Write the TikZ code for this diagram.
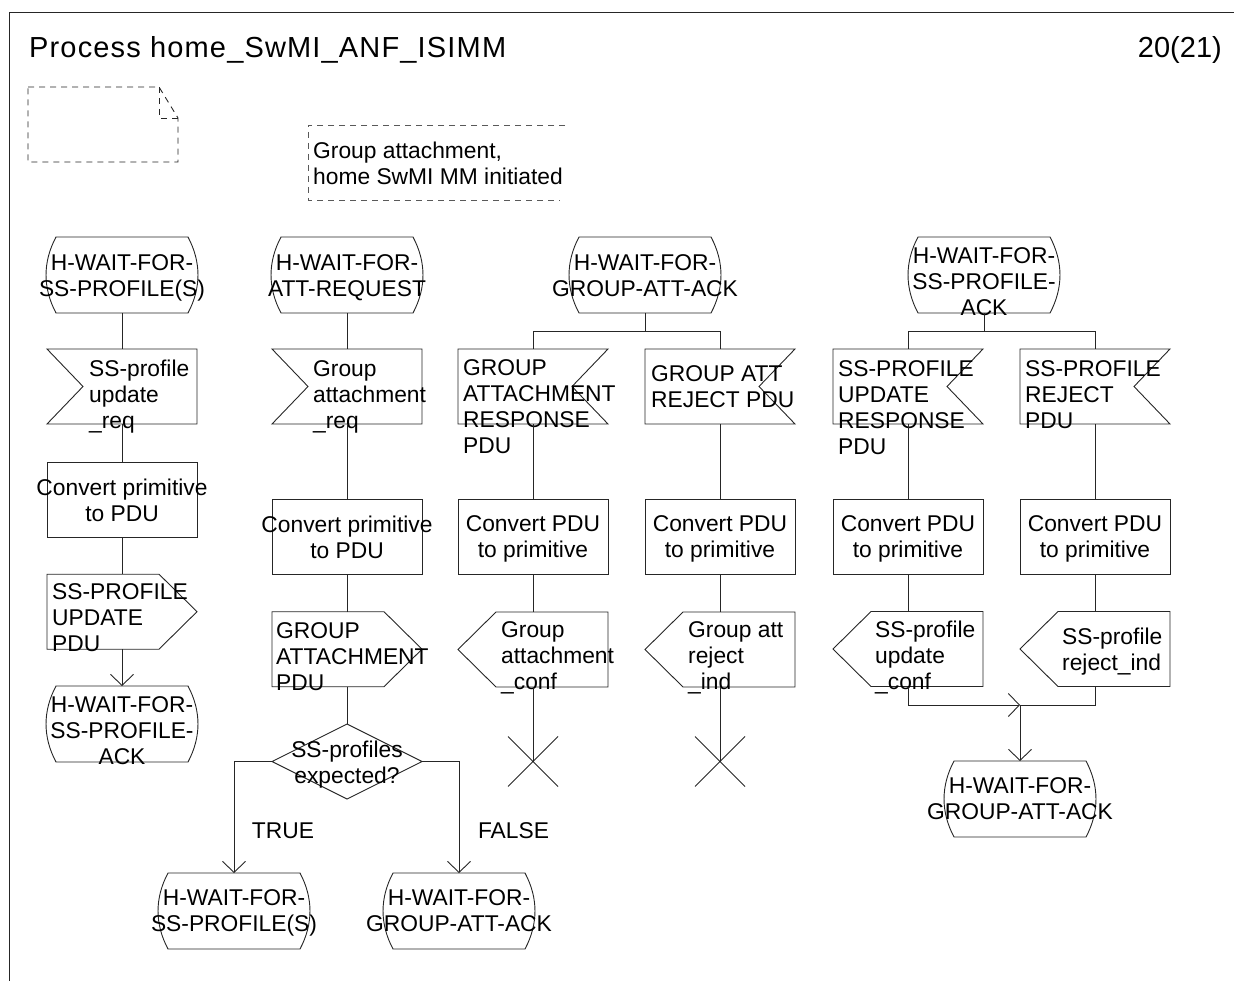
\documentclass[tikz,border=0pt]{standalone}
\usepackage{fontspec}
\setmainfont{Liberation Sans}
\usetikzlibrary{arrows.meta,shapes.geometric}
\newcommand\bodyfnt{\fontsize{22.8}{26}\selectfont}
\newcommand\titlefnt{\fontsize{29}{33}\selectfont\addfontfeature{LetterSpace=4}}
\tikzset{
  ln/.style={line width=0.9pt, draw=black!85},
  arr/.style={ln, -{Straight Barb[length=11pt,width=23pt,line width=0.9pt]}},
  dsh/.style={line width=0.9pt, draw=black!65, dash pattern=on 6pt off 5pt},
  dshdark/.style={line width=0.9pt, draw=black!85, dash pattern=on 6pt off 5pt},
  sym/.style={minimum width=150pt, minimum height=75pt, inner sep=0pt, outer sep=0pt},
  txt/.style={font=\bodyfnt, inner sep=0pt, align=left, anchor=north west},
  ctxt/.style={font=\bodyfnt, inner sep=0pt, align=center, anchor=north},
  sdlstate/.style={sym, minimum width=152pt, minimum height=76pt,
    append after command={\pgfextra{\draw[ln]
      ([xshift=10pt]\tikzlastnode.north west)
      .. controls ([xshift=-3.3pt,yshift=-25pt]\tikzlastnode.north west) and ([xshift=-3.3pt,yshift=25pt]\tikzlastnode.south west) ..
      ([xshift=10pt]\tikzlastnode.south west) -- ([xshift=-10pt]\tikzlastnode.south east)
      .. controls ([xshift=3.3pt,yshift=25pt]\tikzlastnode.south east) and ([xshift=3.3pt,yshift=-25pt]\tikzlastnode.north east) ..
      ([xshift=-10pt]\tikzlastnode.north east) -- cycle;}}},
  sdltask/.style={sym, ln, draw},
  sdlinput/.style={sym, append after command={\pgfextra{\draw[ln]
      (\tikzlastnode.north west) -- (\tikzlastnode.north east) -- (\tikzlastnode.south east)
      -- (\tikzlastnode.south west) -- ([xshift=36pt]\tikzlastnode.west) -- cycle;}}},
  sdlinputr/.style={sym, append after command={\pgfextra{\draw[ln]
      (\tikzlastnode.north west) -- (\tikzlastnode.north east) -- ([xshift=-36pt]\tikzlastnode.east)
      -- (\tikzlastnode.south east) -- (\tikzlastnode.south west) -- cycle;}}},
  sdloutput/.style={sym, append after command={\pgfextra{\draw[ln]
      (\tikzlastnode.north west) -- ([xshift=-38pt]\tikzlastnode.north east) -- (\tikzlastnode.east)
      -- ([xshift=-38pt]\tikzlastnode.south east) -- (\tikzlastnode.south west) -- cycle;}}},
  sdloutputl/.style={sym, append after command={\pgfextra{\draw[ln]
      ([xshift=38pt]\tikzlastnode.north west) -- (\tikzlastnode.north east) -- (\tikzlastnode.south east)
      -- ([xshift=38pt]\tikzlastnode.south west) -- (\tikzlastnode.west) -- cycle;}}},
  sdldecision/.style={shape=diamond, ln, draw, minimum width=150pt, minimum height=75pt, inner sep=0pt, outer sep=0pt},
  sdlstop/.style={minimum size=50pt, inner sep=0pt, outer sep=0pt,
    append after command={\pgfextra{\draw[ln]
      (\tikzlastnode.north west) -- (\tikzlastnode.south east)
      (\tikzlastnode.north east) -- (\tikzlastnode.south west);}}},
}
\begin{document}
\begin{tikzpicture}[x=1pt,y=-1pt]
\useasboundingbox (0,0) rectangle (1234,981);
% frame
\draw[ln] (1234,12) -- (9,12) -- (9,981);
\node[font=\titlefnt, anchor=base west, inner sep=0pt] (title) at (29,58) {Process home\_SwMI\_ANF\_ISIMM};
\node[font=\fontsize{29}{33}\selectfont, anchor=base east, inner sep=0pt] (page) at (1222,58) {20(21)};
% text symbol (dog-ear)
\draw[dshdark] (28,87) -- (159,87) -- (178,118) -- (178,162) -- (28,162) -- cycle;
\draw[dshdark] (159,87) -- (159,118) -- (178,118);
% comment
\node[txt] (comment) at (313,141.3) {Group attachment,\\home SwMI MM initiated};
\draw[dsh] (565,125) -- (308,125) -- (308,200) -- (560,200);

% ---------- column 1
\node[sdlstate] (s1a) at (122,275) {};
\node[sdlinput] (i1) at (122,386.5) {};
\node[sdltask] (t1) at (122,499.5) {};
\node[sdloutput] (o1) at (122,611.7) {};
\node[sdlstate] (s1b) at (122,724) {};
\node[ctxt] (s1a-t) at (122,254) {H-WAIT-FOR-\\SS-PROFILE(S)};
\node[txt] (i1-t) at (89,360) {SS-profile\\update\\\_req};
\node[ctxt] (t1-t) at (122,478.3) {Convert primitive\\to PDU};
\node[txt] (o1-t) at (52,583) {SS-PROFILE\\UPDATE\\PDU};
\node[ctxt] (s1b-t) at (122,696) {H-WAIT-FOR-\\SS-PROFILE-\\ACK};
\draw[ln] (s1a.south) -- (i1.north);
\draw[ln] (i1.south) -- (t1.north);
\draw[ln] (t1.south) -- (o1.north);
\draw[arr] (o1.south) -- (s1b.north);

% ---------- column 2
\node[sdlstate] (s2a) at (347,275) {};
\node[sdlinput] (i2) at (347,386.5) {};
\node[sdltask] (t2) at (347,536.7) {};
\node[sdloutput] (o2) at (347,649.2) {};
\node[sdldecision] (d2) at (347,761.5) {};
\node[sdlstate] (s2b) at (234,911) {};
\node[sdlstate] (s2c) at (459,911) {};
\node[ctxt] (s2a-t) at (347,254) {H-WAIT-FOR-\\ATT-REQUEST};
\node[txt] (i2-t) at (313,360) {Group\\attachment\\\_req};
\node[ctxt] (t2-t) at (347,515.5) {Convert primitive\\to PDU};
\node[txt] (o2-t) at (276,622) {GROUP\\ATTACHMENT\\PDU};
\node[ctxt] (d2-t) at (347,740.3) {SS-profiles\\expected?};
\node[ctxt] (s2b-t) at (234,889.8) {H-WAIT-FOR-\\SS-PROFILE(S)};
\node[ctxt] (s2c-t) at (459,889.8) {H-WAIT-FOR-\\GROUP-ATT-ACK};
\node[font=\bodyfnt, inner sep=0pt, anchor=base] (true) at (283,838.6) {TRUE};
\node[font=\bodyfnt, inner sep=0pt, anchor=base] (false) at (513.5,838.6) {FALSE};
\draw[ln] (s2a.south) -- (i2.north);
\draw[ln] (i2.south) -- (t2.north);
\draw[ln] (t2.south) -- (o2.north);
\draw[ln] (o2.south) -- (d2.north);
\draw[arr] (d2.west) -| (s2b.north);
\draw[arr] (d2.east) -| (s2c.north);

% ---------- column 3
\node[sdlstate] (s3) at (645,275) {};
\coordinate (b3) at (645,331);
\node[sdlinputr] (i3a) at (533,386.5) {};
\node[sdlinputr] (i3b) at (720,386.5) {};
\node[sdltask] (t3a) at (533,536.7) {};
\node[sdltask] (t3b) at (720,536.7) {};
\node[sdloutputl] (o3a) at (533,649.5) {};
\node[sdloutputl] (o3b) at (720,649.5) {};
\node[sdlstop] (x3a) at (533,761.5) {};
\node[sdlstop] (x3b) at (720,761.5) {};
\node[ctxt] (s3-t) at (645,254) {H-WAIT-FOR-\\GROUP-ATT-ACK};
\node[txt] (i3a-t) at (463,359) {GROUP\\ATTACHMENT\\RESPONSE\\PDU};
\node[txt] (i3b-t) at (651,365.3) {GROUP ATT\\REJECT PDU};
\node[ctxt] (t3a-t) at (533,515.5) {Convert PDU\\to primitive};
\node[ctxt] (t3b-t) at (720,515.5) {Convert PDU\\to primitive};
\node[txt] (o3a-t) at (501,621) {Group\\attachment\\\_conf};
\node[txt] (o3b-t) at (688,621) {Group att\\reject\\\_ind};
\draw[ln] (s3.south) -- (b3);
\draw[ln] (i3a.north) -- (i3a.north |- b3) -- (i3b.north |- b3) -- (i3b.north);
\draw[ln] (i3a.south) -- (t3a.north);
\draw[ln] (i3b.south) -- (t3b.north);
\draw[ln] (t3a.south) -- (o3a.north);
\draw[ln] (t3b.south) -- (o3b.north);
\draw[ln] (o3a.south) -- (x3a.center);
\draw[ln] (o3b.south) -- (x3b.center);

% ---------- column 4
\node[sdlstate] (s4) at (984,275) {};
\coordinate (b4) at (984,331);
\node[sdlinputr] (i4a) at (908,386.5) {};
\node[sdlinputr] (i4b) at (1095,386.5) {};
\node[sdltask] (t4a) at (908,536.7) {};
\node[sdltask] (t4b) at (1095,536.7) {};
\node[sdloutputl] (o4a) at (908,649) {};
\node[sdloutputl] (o4b) at (1095,649) {};
\coordinate (j4) at (1020,705);
\node[sdlstate] (s4b) at (1020,799) {};
\node[ctxt] (s4-t) at (984,247) {H-WAIT-FOR-\\SS-PROFILE-\\ACK};
\node[txt] (i4a-t) at (838,360) {SS-PROFILE\\UPDATE\\RESPONSE\\PDU};
\node[txt] (i4b-t) at (1025,360) {SS-PROFILE\\REJECT\\PDU};
\node[ctxt] (t4a-t) at (908,515.5) {Convert PDU\\to primitive};
\node[ctxt] (t4b-t) at (1095,515.5) {Convert PDU\\to primitive};
\node[txt] (o4a-t) at (875,621) {SS-profile\\update\\\_conf};
\node[txt] (o4b-t) at (1062,627.8) {SS-profile\\reject\_ind};
\node[ctxt] (s4b-t) at (1020,777.8) {H-WAIT-FOR-\\GROUP-ATT-ACK};
\draw[ln] (s4.south) -- (b4);
\draw[ln] (i4a.north) -- (i4a.north |- b4) -- (i4b.north |- b4) -- (i4b.north);
\draw[ln] (i4a.south) -- (t4a.north);
\draw[ln] (i4b.south) -- (t4b.north);
\draw[ln] (t4a.south) -- (o4a.north);
\draw[ln] (t4b.south) -- (o4b.north);
\draw[arr] (o4a.south) |- (j4);
\draw[ln] (o4b.south) |- (j4);
\draw[arr] (j4) -- (s4b.north);
\end{tikzpicture}
\end{document}
